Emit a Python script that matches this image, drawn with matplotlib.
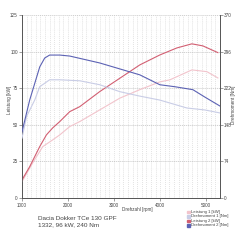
import matplotlib
matplotlib.use("Agg")
import matplotlib.pyplot as plt
import numpy as np

plt.rcParams['font.family'] = ['Liberation Sans', 'DejaVu Sans']

# Leistung 2 [kW] (tuned power)
rpm_p2 = [1000, 1167, 1385, 1530, 1667, 1820, 2037, 2254, 2689, 3124, 3558, 3993, 4363, 4689, 4928, 5254]
pow_p2 = [12.4, 21.4, 35.1, 43.1, 47.9, 52.2, 59.0, 62.4, 72.7, 81.8, 90.9, 97.7, 102.5, 105.3, 103.9, 99.3]

# Leistung 1 [kW] (stock power)
rpm_p1 = [1000, 1233, 1450, 1667, 1820, 2037, 2254, 2689, 3124, 3558, 3993, 4211, 4689, 5015, 5254]
pow_p1 = [11.2, 24.0, 35.1, 39.7, 43.1, 48.8, 52.2, 60.2, 68.2, 74.0, 79.3, 80.7, 87.5, 86.3, 82.0]

# Drehmoment 2 [Nm] (tuned torque)
rpm_t2 = [1000, 1167, 1385, 1493, 1600, 1820, 2037, 2363, 2689, 3124, 3558, 3993, 4319, 4711, 4972, 5298]
trq_t2 = [134, 198, 265, 283, 289, 289, 287, 280, 273, 261, 249, 229, 225, 219, 204, 186]

# Drehmoment 1 [Nm] (stock torque)
rpm_t1 = [1000, 1100, 1276, 1385, 1600, 1820, 2254, 2689, 3124, 3558, 3993, 4580, 4972, 5298]
trq_t1 = [121, 165, 198, 225, 239, 239, 237, 229, 215, 206, 198, 182, 178, 172]

left_ticks = [0, 25, 50, 75, 100, 125]
right_ticks = [0, 74, 148, 222, 296, 370]
x_ticks = [1000, 2000, 3000, 4000, 5000]

c_p1 = '#f2c4cc'
c_t1 = '#c9cde6'
c_p2 = '#d25f72'
c_t2 = '#5c62b4'

fig = plt.figure(figsize=(2.4, 2.4), dpi=100)
ax = fig.add_axes([22/240, 1-198/240, 198/240, 183/240])
ax2 = ax.twinx()

ax.set_xlim(1000, 5300)
ax.set_ylim(0, 125)
ax2.set_ylim(0, 370)

# grid
for r in np.arange(1100, 5300, 100):
    ax.axvline(r, color='#c8c8c8', lw=0.4, ls=(0, (1.5, 2)), zorder=0)
for v in np.arange(5, 125, 5):
    ax.axhline(v, color='#dddddd', lw=0.3, ls=(0, (0.5, 3.5)), zorder=0)
for v in left_ticks[1:]:
    ax.axhline(v, color='#b0b0b0', lw=0.4, ls=(0, (2, 1.5)), zorder=0)

ax.plot(rpm_p1, pow_p1, color=c_p1, lw=0.8, zorder=3)
ax2.plot(rpm_t1, trq_t1, color=c_t1, lw=0.8, zorder=3)
ax.plot(rpm_p2, pow_p2, color=c_p2, lw=0.8, zorder=4)
ax2.plot(rpm_t2, trq_t2, color=c_t2, lw=0.8, zorder=4)

for a in (ax, ax2):
    a.spines['top'].set_visible(False)
    for s in ('left', 'right', 'bottom'):
        a.spines[s].set_color('#555555')
        a.spines[s].set_linewidth(0.6)

ax.set_yticks(left_ticks)
ax.set_yticklabels([str(t) for t in left_ticks])
ax2.set_yticks(right_ticks)
ax2.set_yticklabels([str(t) for t in right_ticks])
ax.set_xticks(x_ticks)
ax.set_xticklabels([str(t) for t in x_ticks])
ax.set_xticks(np.arange(1000, 5301, 100), minor=True)
ax.tick_params(axis='x', which='major', labelsize=3.3, length=2, width=0.4, color='#555555', pad=1.5, labelcolor='#444444')
ax.tick_params(axis='x', which='minor', length=1, width=0.3, color='#777777')
ax.tick_params(axis='y', labelsize=3.3, length=2, width=0.4, color='#555555', pad=1, labelcolor='#444444')
ax2.tick_params(axis='y', labelsize=3.3, length=2, width=0.4, color='#555555', pad=1, labelcolor='#444444')

fig.text(9/240, 1-100/240, 'Leistung [kW]', rotation=90, fontsize=3.3, color='#444444', ha='center', va='center')
fig.text(233/240, 1-105/240, 'Drehmoment [Nm]', rotation=90, fontsize=3.3, color='#444444', ha='center', va='center')
fig.text(122/240, 1-210/240, 'Drehzahl [rpm]', fontsize=3.3, color='#444444', ha='left', va='center')

fig.text(38/240, 1-218/240, 'Dacia Dokker TCe 130 GPF', fontsize=4.6, color='#444444', ha='left', va='center')
fig.text(38/240, 1-225/240, '1332, 96 kW, 240 Nm', fontsize=4.6, color='#444444', ha='left', va='center')

labels = ['Leistung 1 [kW]', 'Drehmoment 1 [Nm]', 'Leistung 2 [kW]', 'Drehmoment 2 [Nm]']
colors = [c_p1, c_t1, c_p2, c_t2]
for i, (lab, col) in enumerate(zip(labels, colors)):
    y = 1 - (212 + i * 4.4) / 240
    fig.patches.append(plt.Rectangle((187/240, y - 0.006), 0.011, 0.011, transform=fig.transFigure, color=col, figure=fig))
    fig.text(191/240, y, lab, fontsize=3.1, color='#444444', ha='left', va='center')

fig.savefig('out.png', dpi=100)
